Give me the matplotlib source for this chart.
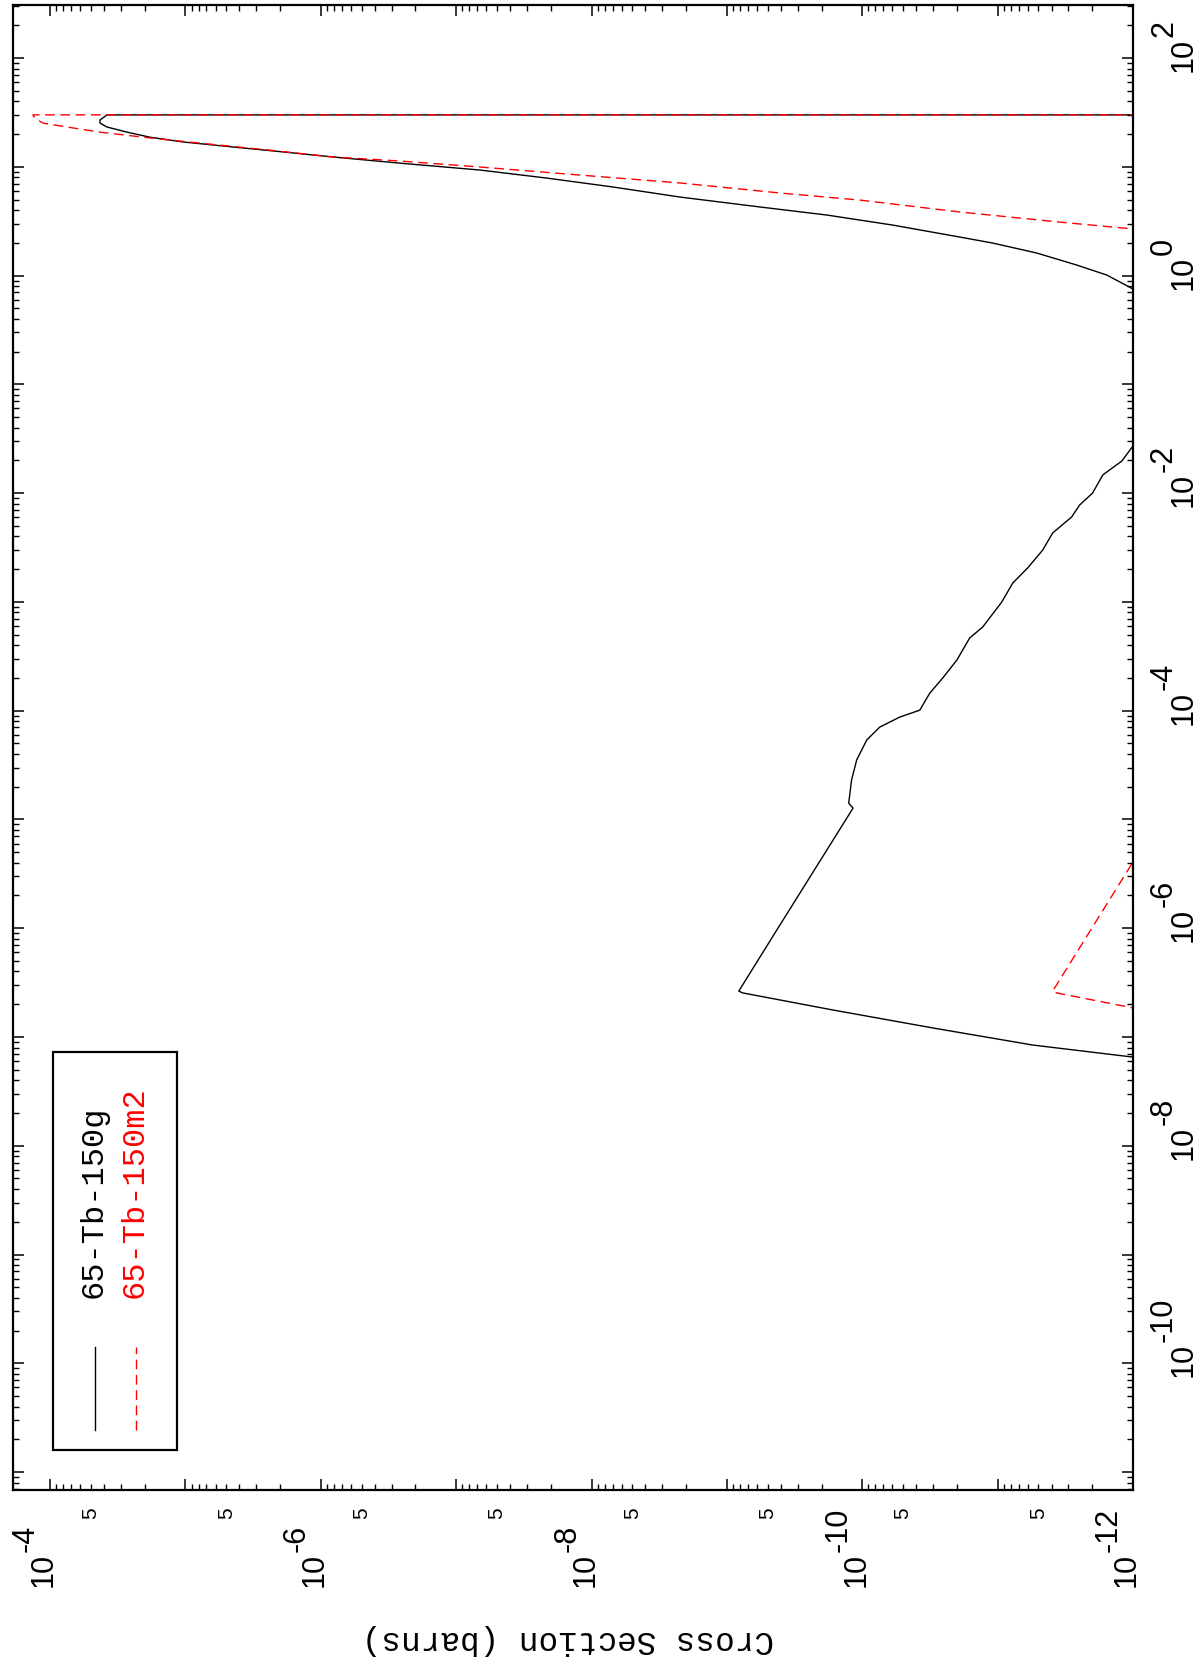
import numpy as np
import matplotlib
matplotlib.use("Agg")
import matplotlib.pyplot as plt
import matplotlib.transforms as mtransforms
from matplotlib.ticker import LogLocator, NullFormatter
from matplotlib.patches import Rectangle
from matplotlib.lines import Line2D

plt.rcParams["font.family"] = ["Liberation Sans", "DejaVu Sans"]

# ---------------- data (energy in MeV, cross section in barns) ----------------
series_labels = ["65-Tb-150g", "65-Tb-150m2"]
series_colors = ["black", "red"]

tb150g_energy = [4.66e-8, 6.53e-8, 8.43e-8, 1.21e-7, 1.77e-7, 2.54e-7, 2.64e-7, 9.62e-7,
                 1.27e-5, 1.41e-5, 2.30e-5, 3.52e-5, 5.37e-5, 7.06e-5, 8.73e-5, 1.01e-4,
                 1.45e-4, 2.00e-4, 2.92e-4, 4.65e-4, 5.87e-4, 9.95e-4, 1.49e-3, 2.05e-3,
                 2.99e-3, 4.30e-3, 6.03e-3, 7.76e-3, 1.00e-2, 1.47e-2, 1.97e-2, 2.71e-2,
                 6.3e-2, 1.6e-1, 4.0e-1, 7.52e-1, 1.01, 1.25, 1.61, 1.99, 2.26, 2.91,
                 3.60, 4.27, 5.27, 6.52, 7.87, 9.33, 10.8, 12.3, 13.7, 15.2, 16.9, 18.7,
                 20.8, 23.2, 25.2, 26.9, 30.0, 30.0]
tb150g_xs = [9.8e-14, 1.0e-12, 5.51e-12, 3.01e-11, 1.65e-10, 7.64e-10, 8.17e-10, 4.28e-10,
             1.17e-10, 1.26e-10, 1.20e-10, 1.10e-10, 9.27e-11, 7.43e-11, 5.28e-11, 3.76e-11,
             3.17e-11, 2.54e-11, 2.00e-11, 1.61e-11, 1.29e-11, 9.33e-12, 7.73e-12, 6.00e-12,
             4.65e-12, 3.92e-12, 2.84e-12, 2.48e-12, 1.99e-12, 1.67e-12, 1.21e-12, 1.00e-12,
             5.0e-13, 3.2e-13, 6.3e-13, 1.00e-12, 1.56e-12, 2.61e-12, 5.14e-12, 1.09e-11,
             1.91e-11, 5.96e-11, 1.83e-10, 5.71e-10, 2.23e-9, 6.97e-9, 2.14e-8, 6.68e-8,
             2.61e-7, 8.15e-7, 1.91e-6, 4.46e-6, 1.04e-5, 1.83e-5, 2.70e-5, 3.80e-5,
             4.28e-5, 4.28e-5, 3.80e-5, 1.0e-14]

tb150m2_energy = [1.04e-7, 1.85e-7, 2.54e-7, 2.64e-7, 4.06e-6, 4.37e-4, 1.0e-2, 1.0,
                  2.68, 3.10, 3.84, 4.94, 5.74, 7.10, 8.39, 9.95, 11.3, 12.3, 14.3, 16.5,
                  18.4, 20.8, 23.2, 25.2, 27.2, 29.0, 30.0, 30.0]
tb150m2_xs = [9.8e-14, 1.0e-12, 3.66e-12, 3.92e-12, 1.0e-12, 9.8e-14, 3.0e-14, 1.0e-13,
              1.0e-12, 3.48e-12, 1.91e-11, 1.04e-10, 4.06e-10, 2.23e-9, 1.22e-8, 6.68e-8,
              2.61e-7, 8.15e-7, 2.50e-6, 7.82e-6, 1.83e-5, 4.28e-5, 7.50e-5, 1.13e-4,
              1.25e-4, 1.32e-4, 1.34e-4, 1.0e-14]

xs_major_exponents = [-4, -6, -8, -10, -12]
xs_minor_labels = [5e-5, 5e-6, 5e-7, 5e-8, 5e-9, 5e-10, 5e-11, 5e-12]
energy_major_exponents = [2, 0, -2, -4, -6, -8, -10]
xs_limits = (1.88e-4, 1.0e-12)
energy_limits = (6.84e-12, 307.0)
ylabel_text = "Cross Section (barns)"

# ---------------- figure (landscape plot rotated onto a portrait page) ----------------
W, H = 1199, 1663
fig = plt.figure(figsize=(W / 100, H / 100), dpi=100)
L, R, T, B = 13, 1133, 5, 1490
ax = fig.add_axes([L / W, 1 - B / H, (R - L) / W, (B - T) / H])

ax.plot(tb150g_xs, tb150g_energy, color=series_colors[0], lw=1.0, solid_joinstyle="round")
ax.plot(tb150m2_xs, tb150m2_energy, color=series_colors[1], lw=1.0, dashes=(7, 4))

ax.set_xscale("log")
ax.set_yscale("log")
ax.set_xlim(*xs_limits)
ax.set_ylim(*energy_limits)

for axis in (ax.xaxis, ax.yaxis):
    axis.set_major_locator(LogLocator(base=10, numticks=40))
    axis.set_minor_locator(LogLocator(base=10, subs=np.arange(2, 10), numticks=40))
    axis.set_major_formatter(NullFormatter())
    axis.set_minor_formatter(NullFormatter())

ax.tick_params(which="both", direction="in", top=True, bottom=True, left=True, right=True,
               labelbottom=False, labelleft=False)
ax.tick_params(which="major", length=8, width=1.1)
ax.tick_params(which="minor", length=4.5, width=1.0)
for s in ax.spines.values():
    s.set_linewidth(1.6)

PX = 1 / 100.0
FS = 22


def power_label(x, y, trans, n, dx=0.0, dy=0.0, raise_px=19):
    """Rotated '10' with a full-size raised exponent (PLOTTAB style)."""
    t0 = trans + mtransforms.ScaledTranslation(dx * PX, dy * PX, fig.dpi_scale_trans)
    ax.text(x, y, "10", transform=t0, rotation=90, rotation_mode="anchor",
            ha="left", va="baseline", fontsize=FS, clip_on=False)
    w10 = 2 * 0.556 * FS / 72 * 100
    shift = w10 + 1
    t1 = trans + mtransforms.ScaledTranslation((dx - raise_px) * PX, (dy + shift) * PX,
                                               fig.dpi_scale_trans)
    ax.text(x, y, str(n), transform=t1, rotation=90, rotation_mode="anchor",
            ha="left", va="baseline", fontsize=FS, clip_on=False)


# energy labels (right side, rotated)
tr_e = mtransforms.blended_transform_factory(ax.transAxes, ax.transData)
xe = (1192 - L) / (R - L)
for n in energy_major_exponents:
    power_label(xe, 10.0 ** n, tr_e, n, dy=-14, raise_px=20)

# cross-section labels (bottom, rotated)
tr_x = mtransforms.blended_transform_factory(ax.transData, ax.transAxes)
yx = -(1587 - B) / (B - T)
for n in xs_major_exponents:
    power_label(10.0 ** n, yx, tr_x, n, dx=2, raise_px=18)
ym = -(1513 - B) / (B - T)
for v in xs_minor_labels:
    ax.text(v, ym, "5", rotation=90, rotation_mode="anchor",
            ha="center", va="center", fontsize=15, transform=tr_x, clip_on=False)

# axis title (original y label, upside down)
ax.text((568 - L) / (R - L), -(1640 - B) / (B - T), ylabel_text, rotation=180,
        ha="center", va="center", fontsize=23.5, family="Liberation Mono",
        transform=ax.transAxes, clip_on=False)


# legend drawn rotated
def fx(p):
    return (p - L) / (R - L)


def fy(p):
    return (B - p) / (B - T)


ax.add_patch(Rectangle((fx(53), fy(1450)), fx(177) - fx(53), fy(1052) - fy(1450),
                       transform=ax.transAxes, fill=True, facecolor="white",
                       edgecolor="black", lw=1.6, zorder=5))
ax.add_line(Line2D([fx(95), fx(95)], [fy(1430), fy(1347)], color=series_colors[0], lw=1.0,
                   transform=ax.transAxes, zorder=6))
ax.add_line(Line2D([fx(136), fx(136)], [fy(1430), fy(1347)], color=series_colors[1], lw=1.0,
                   dashes=(7, 4), transform=ax.transAxes, zorder=6))
for lab, col, bx in zip(series_labels, series_colors, [102, 143]):
    ax.text(fx(bx), fy(1298), lab, color=col, rotation=90, rotation_mode="anchor",
            ha="left", va="baseline", fontsize=23, family="Liberation Mono",
            transform=ax.transAxes, zorder=7)

fig.savefig("out.png", dpi=100)
